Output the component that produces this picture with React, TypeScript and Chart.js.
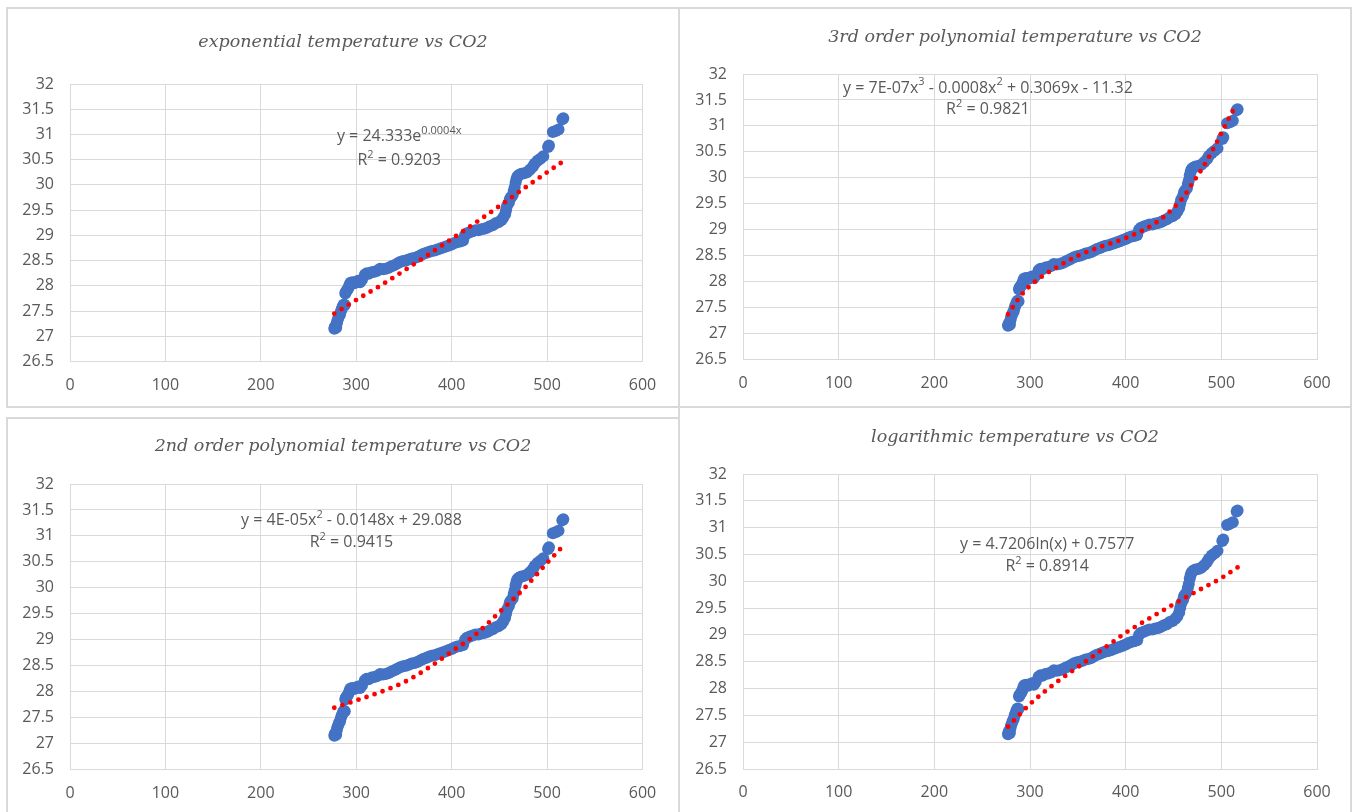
import React, { useEffect, useRef } from "react";
import { Chart, registerables } from "chart.js";

Chart.register(...registerables);

// ---- observed data (CO2 ppm vs temperature) ----
const co2 = [
  277, 277.5, 278, 279, 279.5, 280, 281, 282, 283, 284, 285, 286, 287, 288,
  288.5, 289, 290, 291, 292, 293, 294, 296, 298, 300, 302, 304, 306, 309, 311,
  313, 316, 319, 322, 325, 328, 331, 334, 337, 340, 343, 346, 349, 352, 355,
  358, 361, 364, 367, 370, 373, 376, 379, 382, 385, 388, 391, 394, 397, 400,
  403, 406, 409, 412, 414, 416, 419, 422, 425, 428, 431, 434, 437, 440, 443,
  446, 449, 452, 454, 456, 457, 458, 460, 461, 462, 464, 465, 466, 467, 468,
  469, 471, 473, 476, 479, 482, 485, 487, 490, 493, 496, 501, 502, 506, 509,
  512, 516, 517,
];
const temperature = [
  27.15, 27.18, 27.2, 27.17, 27.25, 27.3, 27.35, 27.4, 27.43, 27.5, 27.55, 27.6,
  27.63, 27.62, 27.85, 27.88, 27.9, 27.93, 27.97, 28.02, 28.06, 28.07, 28.05,
  28.08, 28.1, 28.07, 28.12, 28.22, 28.25, 28.24, 28.27, 28.28, 28.3, 28.34,
  28.33, 28.34, 28.36, 28.39, 28.41, 28.44, 28.47, 28.49, 28.5, 28.52, 28.54,
  28.55, 28.57, 28.6, 28.63, 28.65, 28.67, 28.69, 28.7, 28.72, 28.74, 28.76,
  28.78, 28.8, 28.82, 28.85, 28.87, 28.88, 28.9, 29.0, 29.04, 29.06, 29.08,
  29.1, 29.1, 29.12, 29.13, 29.15, 29.18, 29.2, 29.24, 29.26, 29.3, 29.35,
  29.42, 29.5, 29.58, 29.65, 29.72, 29.75, 29.8, 29.88, 29.95, 30.05, 30.12,
  30.17, 30.2, 30.22, 30.23, 30.25, 30.3, 30.36, 30.42, 30.48, 30.52, 30.57,
  30.75, 30.78, 31.05, 31.07, 31.1, 31.3, 31.32,
];

// ---- trend lines ----
const expTrendCo2 = [277, 300, 325, 350, 375, 400, 425, 450, 475, 500, 517];
const expTrendTemp = [27.45, 27.72, 28.0, 28.3, 28.61, 28.93, 29.25, 29.58, 29.92, 30.25, 30.47];

const poly3TrendCo2 = [277, 290, 300, 315, 330, 350, 375, 400, 425, 440, 450, 460, 470, 480, 490, 500, 510, 516];
const poly3TrendTemp = [27.37, 27.72, 27.92, 28.13, 28.3, 28.5, 28.68, 28.84, 29.06, 29.25, 29.42, 29.62, 29.9, 30.18, 30.5, 30.86, 31.22, 31.42];

const poly2TrendCo2 = [277, 300, 325, 350, 375, 400, 425, 450, 475, 500, 516];
const poly2TrendTemp = [27.69, 27.83, 27.99, 28.18, 28.45, 28.77, 29.1, 29.53, 29.97, 30.48, 30.79];

const logTrendCo2 = [277, 300, 325, 350, 375, 400, 425, 450, 475, 500, 517];
const logTrendTemp = [27.29, 27.71, 28.08, 28.4, 28.72, 29.04, 29.31, 29.57, 29.82, 30.06, 30.26];

// ---- tick labels ----
const xTickValues = [0, 100, 200, 300, 400, 500, 600];
const yTickValues = [26.5, 27, 27.5, 28, 28.5, 29, 29.5, 30, 30.5, 31, 31.5, 32];

// ---- panel texts ----
const titles = [
  "exponential temperature vs CO2",
  "3rd order polynomial temperature vs CO2",
  "2nd order polynomial temperature vs CO2",
  "logarithmic temperature vs CO2",
];

type Seg = { t: string; sup?: boolean };

const equations: Seg[][] = [
  [{ t: "y = 24.333e" }, { t: "0.0004x", sup: true }],
  [{ t: "y = 7E-07x" }, { t: "3", sup: true }, { t: " - 0.0008x" }, { t: "2", sup: true }, { t: " + 0.3069x - 11.32" }],
  [{ t: "y = 4E-05x" }, { t: "2", sup: true }, { t: " - 0.0148x + 29.088" }],
  [{ t: "y = 4.7206ln(x) + 0.7577" }],
];
const rSquared = ["0.9203", "0.9821", "0.9415", "0.8914"];

const TEXT = "#595959";
const GRID = "#d9d9d9";
const BLUE = "#4472C4";
const RED = "#FF0000";

type Rect = { x: number; y: number; w: number; h: number };
type PanelCfg = {
  title: string;
  eq: Seg[];
  r2: string;
  trendX: number[];
  trendY: number[];
  canvas: Rect;
  plot: { l: number; r: number; t: number; b: number };
  titleY: number;
  eqPos: { x: number; y: number };
  r2Pos: { x: number; y: number };
};

const panels: PanelCfg[] = [
  {
    title: titles[0], eq: equations[0], r2: rSquared[0],
    trendX: expTrendCo2, trendY: expTrendTemp,
    canvas: { x: 8, y: 9, w: 670, h: 397 },
    plot: { l: 70, r: 642.5, t: 84, b: 361.5 },
    titleY: 42,
    eqPos: { x: 345, y: 30.96 }, r2Pos: { x: 345, y: 30.48 },
  },
  {
    title: titles[1], eq: equations[1], r2: rSquared[1],
    trendX: poly3TrendCo2, trendY: poly3TrendTemp,
    canvas: { x: 680, y: 9, w: 670, h: 397 },
    plot: { l: 743, r: 1317, t: 74, b: 359.5 },
    titleY: 37,
    eqPos: { x: 256, y: 31.73 }, r2Pos: { x: 256, y: 31.31 },
  },
  {
    title: titles[2], eq: equations[2], r2: rSquared[2],
    trendX: poly2TrendCo2, trendY: poly2TrendTemp,
    canvas: { x: 8, y: 419, w: 670, h: 393 },
    plot: { l: 70, r: 642.5, t: 484, b: 769.5 },
    titleY: 446,
    eqPos: { x: 295, y: 31.29 }, r2Pos: { x: 295, y: 30.87 },
  },
  {
    title: titles[3], eq: equations[3], r2: rSquared[3],
    trendX: logTrendCo2, trendY: logTrendTemp,
    canvas: { x: 680, y: 408, w: 670, h: 404 },
    plot: { l: 743, r: 1317, t: 474, b: 769 },
    titleY: 437,
    eqPos: { x: 318, y: 30.69 }, r2Pos: { x: 318, y: 30.27 },
  },
];

const frames: Rect[] = [
  { x: 6, y: 7, w: 674, h: 401 },
  { x: 678, y: 7, w: 674, h: 401 },
  { x: 6, y: 417, w: 674, h: 400 },
  { x: 678, y: 406, w: 674, h: 410 },
];

const TICK_FONT = { family: "'Open Sans', 'Liberation Sans', sans-serif", size: 16 };
const EQ_FONT = "16px 'Open Sans', 'Liberation Sans', sans-serif";
const SUP_FONT = "11px 'Open Sans', 'Liberation Sans', sans-serif";

function drawSegments(ctx: CanvasRenderingContext2D, segs: Seg[], cx: number, cy: number) {
  let total = 0;
  const widths = segs.map((s) => {
    ctx.font = s.sup ? SUP_FONT : EQ_FONT;
    const w = ctx.measureText(s.t).width;
    total += w;
    return w;
  });
  let x = cx - total / 2;
  segs.forEach((s, i) => {
    ctx.font = s.sup ? SUP_FONT : EQ_FONT;
    ctx.fillText(s.t, x, s.sup ? cy - 6 : cy);
    x += widths[i];
  });
}

function Panel({ cfg }: { cfg: PanelCfg }) {
  const ref = useRef<HTMLCanvasElement>(null);
  useEffect(() => {
    const c = cfg;
    const padTop = c.plot.t - c.canvas.y;
    const yAxisW = c.plot.l - c.canvas.x;
    const xAxisH = c.canvas.y + c.canvas.h - c.plot.b;
    const rightW = c.canvas.x + c.canvas.w - c.plot.r;
    const titleSize = 17.5;
    const titleH = titleSize * 1.2;
    const tCenter = c.titleY - c.canvas.y;
    const tPadTop = tCenter - titleH / 2;
    const tPadBottom = padTop - tPadTop - titleH;

    const eqPlugin = {
      id: "eqText",
      afterDatasetsDraw(chart: any) {
        const ctx = chart.ctx as CanvasRenderingContext2D;
        const xs = chart.scales.x;
        const ys = chart.scales.y;
        ctx.save();
        ctx.fillStyle = TEXT;
        ctx.textBaseline = "middle";
        ctx.textAlign = "left";
        drawSegments(ctx, c.eq, xs.getPixelForValue(c.eqPos.x), ys.getPixelForValue(c.eqPos.y));
        drawSegments(
          ctx,
          [{ t: "R" }, { t: "2", sup: true }, { t: " = " + c.r2 }],
          xs.getPixelForValue(c.r2Pos.x),
          ys.getPixelForValue(c.r2Pos.y)
        );
        ctx.restore();
      },
    };

    const chart = new Chart(ref.current as HTMLCanvasElement, {
      type: "scatter",
      data: {
        datasets: [
          {
            label: "trend",
            data: c.trendX.map((x, i) => ({ x, y: c.trendY[i] })),
            showLine: true,
            pointRadius: 0,
            borderColor: RED,
            borderWidth: 4.8,
            borderDash: [0, 8.5],
            borderCapStyle: "round",
            cubicInterpolationMode: "monotone",
            order: 0,
          } as any,
          {
            label: "temperature",
            data: co2.map((x, i) => ({ x, y: temperature[i] })),
            pointRadius: 6,
            backgroundColor: BLUE,
            borderWidth: 0,
            order: 1,
          },
        ],
      },
      options: {
        animation: false,
        responsive: false,
        devicePixelRatio: 1,
        layout: { padding: 0 },
        plugins: {
          legend: { display: false },
          tooltip: { enabled: false },
          title: {
            display: true,
            text: c.title,
            color: TEXT,
            font: { family: "'DejaVu Serif', serif", style: "italic", size: titleSize, weight: "normal" as any, lineHeight: 1.2 },
            padding: { top: tPadTop, bottom: tPadBottom },
          },
        },
        scales: {
          x: {
            type: "linear",
            min: 0,
            max: 600,
            afterBuildTicks: (s: any) => {
              s.ticks = xTickValues.map((v) => ({ value: v }));
            },
            afterFit: (s: any) => {
              s.height = xAxisH;
            },
            grid: { color: GRID, lineWidth: 1, drawTicks: false },
            border: { color: GRID, width: 1 },
            ticks: { color: TEXT, font: TICK_FONT, padding: 14, callback: (v: any) => String(v) },
          },
          y: {
            type: "linear",
            min: 26.5,
            max: 32,
            afterBuildTicks: (s: any) => {
              s.ticks = yTickValues.map((v) => ({ value: v }));
            },
            afterFit: (s: any) => {
              s.width = yAxisW;
            },
            grid: { color: GRID, lineWidth: 1, drawTicks: false },
            border: { color: GRID, width: 1 },
            ticks: { color: TEXT, font: TICK_FONT, padding: 16, callback: (v: any) => String(v) },
          },
          yRightSpace: {
            type: "linear",
            position: "right",
            display: true,
            min: 0,
            max: 1,
            grid: { display: false, drawTicks: false },
            border: { display: false },
            ticks: { display: false },
            afterFit: (s: any) => {
              s.width = rightW;
            },
          },
        },
      },
      plugins: [eqPlugin],
    });
    return () => chart.destroy();
  }, [cfg]);

  return (
    <canvas
      ref={ref}
      width={cfg.canvas.w}
      height={cfg.canvas.h}
      style={{
        position: "absolute",
        left: cfg.canvas.x,
        top: cfg.canvas.y,
        width: cfg.canvas.w,
        height: cfg.canvas.h,
      }}
    />
  );
}

export default function App() {
  return (
    <div style={{ position: "absolute", left: 0, top: 0, width: 1354, height: 812, background: "#ffffff", overflow: "hidden" }}>
      {frames.map((f, i) => (
        <div
          key={"f" + i}
          style={{
            position: "absolute",
            left: f.x,
            top: f.y,
            width: f.w,
            height: f.h,
            border: "2px solid " + GRID,
            boxSizing: "border-box",
          }}
        />
      ))}
      {panels.map((p, i) => (
        <Panel key={i} cfg={p} />
      ))}
    </div>
  );
}
